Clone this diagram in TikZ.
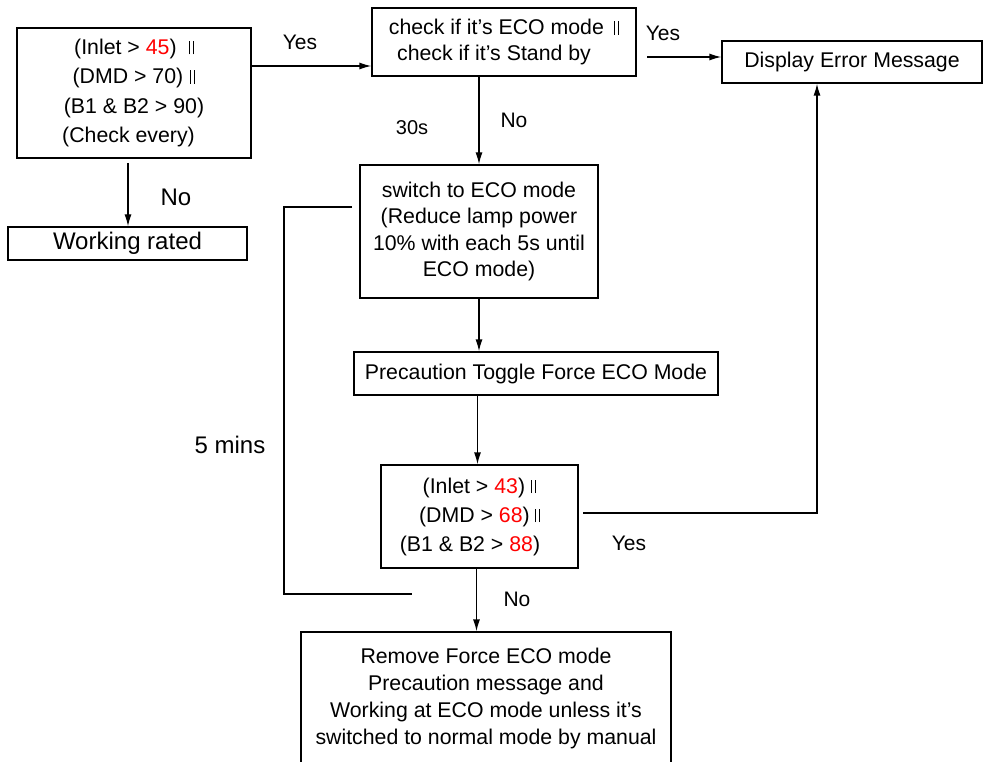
\documentclass[tikz,border=0pt]{standalone}
\usepackage{fontspec}
\setmainfont{Liberation Sans}
\usetikzlibrary{arrows.meta}
\definecolor{hot}{RGB}{255,0,0}
% logical "or" mark: two thin bars sitting on the baseline
\newcommand\orbar{\mbox{\rule{1.2pt}{13.5pt}\hspace{2.8pt}\rule{1.2pt}{13.5pt}}}
\newcommand\hv[1]{\textcolor{hot}{#1}}

\begin{document}
\begin{tikzpicture}[x=1pt,y=-1pt,
  box/.style={draw, line width=1.3pt, inner sep=0pt, align=center,
              font=\fontsize{21.3}{26}\selectfont},
  arr/.style={-{Latex[length=12pt,width=7pt]}, line width=1.3pt},
  wire/.style={line width=1.3pt},
  lbl/.style={inner sep=0pt, font=\fontsize{21}{25}\selectfont},
  biglbl/.style={inner sep=0pt, font=\fontsize{24}{28}\selectfont}]
\useasboundingbox (0,0) rectangle (988,762);
\clip (0,0) rectangle (988,762);

% boxes
\node[box, minimum width=234pt, minimum height=130pt,
      font=\fontsize{21.3}{29.5}\selectfont] (A) at (134,93)
  {(Inlet > \hv{45})\hspace{12pt}\orbar\\(DMD > 70)\hspace{7pt}\orbar\\
   (B1 \& B2 > 90)\hspace*{11pt}\\(Check every)\hspace*{11pt}};
\node[box, minimum width=264pt, minimum height=68pt] (B) at (504,42)
  {check if it’s ECO mode\hspace{10pt}\orbar\\check if it’s Stand by\hspace*{20pt}};
\node[box, minimum width=260pt, minimum height=42pt] (C) at (852,62)
  {Display Error Message};
\node[box, minimum width=239pt, minimum height=33pt,
      font=\fontsize{24}{28}\selectfont] (D) at (127.5,243.5) {Working rated};
\node[box, minimum width=238pt, minimum height=133pt,
      font=\fontsize{21.3}{26.3}\selectfont] (E) at (479,231.5)
  {switch to ECO mode\\(Reduce lamp power\\10\% with each 5s until\\ECO mode)};
\node[box, minimum width=364pt, minimum height=43pt] (F) at (536,373.5)
  {Precaution Toggle Force ECO Mode};
\node[box, minimum width=197pt, minimum height=103pt,
      font=\fontsize{21.3}{29}\selectfont] (G) at (479.5,516.5)
  {(Inlet > \hv{43})\hspace{6pt}\orbar\\(DMD > \hv{68})\hspace{5pt}\orbar\\
   (B1 \& B2 > \hv{88})\hspace*{19pt}};
\node[box, minimum width=370pt, minimum height=132pt,
      font=\fontsize{21.3}{27}\selectfont] (H) at (486,698)
  {Remove Force ECO mode\\Precaution message and\\Working at ECO mode unless it’s\\switched to normal mode by manual};

% free ends of connectors
\coordinate (aout) at (128,163);
\coordinate (byes) at (647,57);
\coordinate (gyes) at (583,513);
\coordinate (loopa) at (352,207);
\coordinate (loopc) at (284,207);
\coordinate (loopb) at (412,594);

% connectors
\draw[arr] (A.east |- 0,66) -- (B.west |- 0,66);
\draw[arr] (byes) -- (byes -| C.west);
\draw[arr] (aout) -- (aout |- D.north);
\draw[arr] (E.north |- B.south) -- (E.north);
\draw[arr] (E.south) -- (E.south |- F.north);
\draw[arr] ([xshift=-2pt]G.north |- F.south) -- ([xshift=-2pt]G.north);
\draw[arr] ([xshift=-3pt]G.south) -- ([xshift=-3pt]G.south |- H.north);
\draw[arr] (gyes) -| ([xshift=-35pt]C.south);
\draw[wire] (loopa) -- (loopc) |- (loopb);

% branch labels
\node[lbl] (yes1) at (300,42) {Yes};
\node[lbl] (yes2) at (663,33) {Yes};
\node[biglbl] (no1) at (176,197) {No};
\node[lbl, font=\fontsize{20}{24}\selectfont] (t30) at (412,128) {30s};
\node[lbl] (no2) at (514,120) {No};
\node[biglbl] (mins) at (230,445) {5 mins};
\node[lbl] (yes3) at (629,543) {Yes};
\node[lbl] (no3) at (517,599) {No};
\end{tikzpicture}
\end{document}
